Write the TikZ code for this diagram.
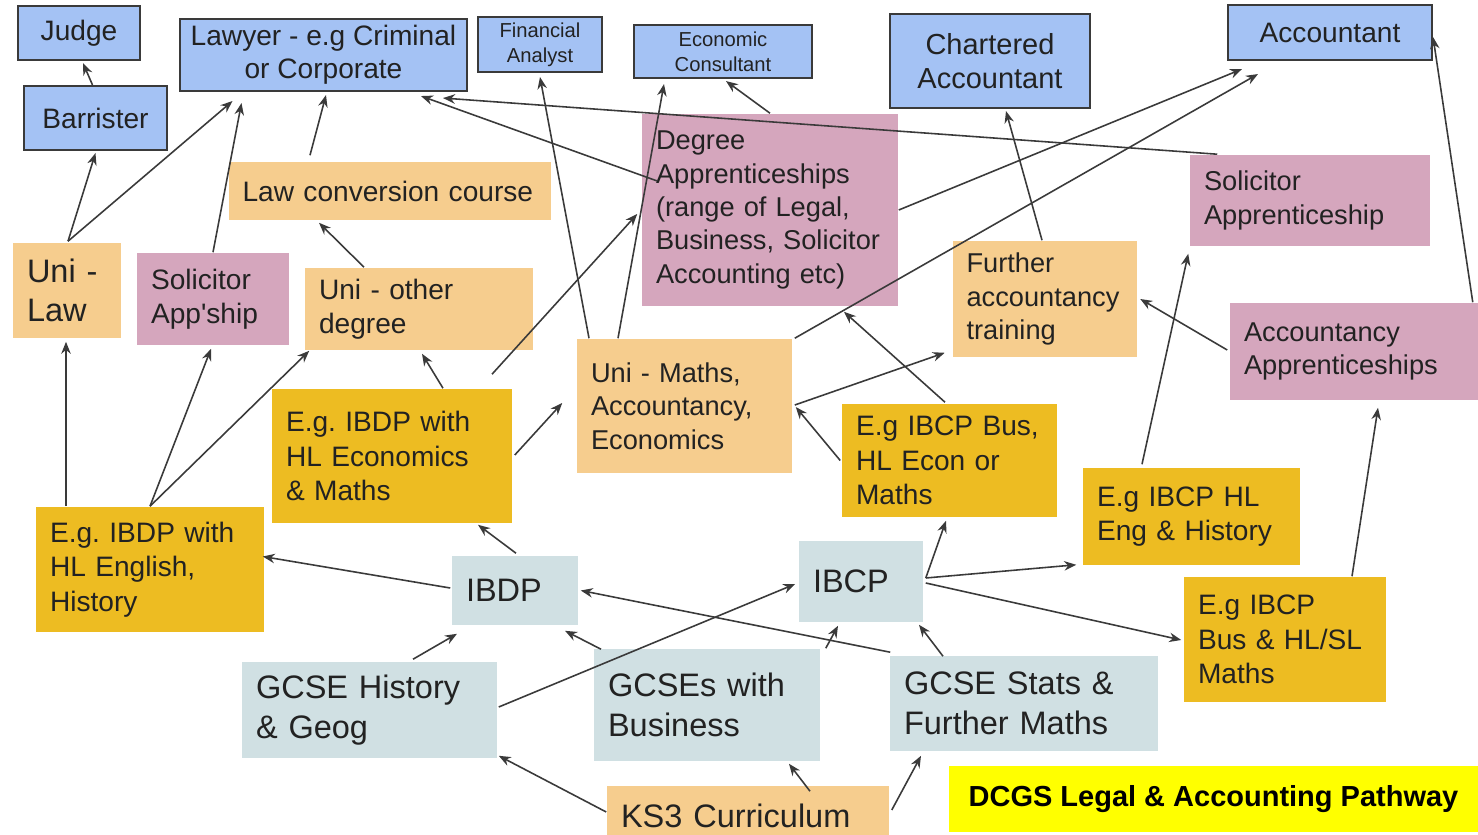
\documentclass[tikz,border=0pt]{standalone}
\usepackage{fontspec}
\setmainfont{Liberation Sans}
\usepackage{tikz}
\usetikzlibrary{arrows.meta, calc}
\definecolor{jobblue}{HTML}{A4C2F4}
\definecolor{edgegrey}{HTML}{3A3A3A}
\definecolor{routetan}{HTML}{F6CD8E}
\definecolor{apprpink}{HTML}{D5A6BD}
\definecolor{optiongold}{HTML}{EDBC22}
\definecolor{schoolgrey}{HTML}{D0E0E3}
\definecolor{banneryellow}{HTML}{FFFF00}
\definecolor{inkgrey}{HTML}{222222}

\begin{document}
\frenchspacing
\begin{tikzpicture}[x = 0.02cm, y = -0.02cm, line width = 0.9pt,
                        >={Stealth[length = 2.4mm, width = 1.9mm]},
                        job/.style = {draw = edgegrey, line width = 1.2pt, fill = jobblue, align = center, inner sep = 0pt, text = inkgrey, font = \fontsize{16}{19}\selectfont},
                        jobsmall/.style = {job, font = \fontsize{11.5}{14}\selectfont},
                        card/.style = {align = left, inner xsep = 0.28cm, inner ysep = 0pt, text = inkgrey, font = \fontsize{15.5}{19}\selectfont},
                        route/.style = {card, fill = routetan},
                        appr/.style = {card, fill = apprpink},
                        option/.style = {card, fill = optiongold, font = \fontsize{16}{19.5}\selectfont},
                        school/.style = {card, fill = schoolgrey, font = \fontsize{18.5}{23}\selectfont},
                        link/.style = {->, draw = edgegrey}]
      \useasboundingbox (0, 0) rectangle (1478, 835);
      \node [job, minimum width = 2.44cm, minimum height = 1.08cm] (judge) at (79, 33){Judge};
      \node [job, minimum width = 2.86cm, minimum height = 1.28cm] (barrister) at (95.5, 118){Barrister};
      \node [job, minimum width = 5.74cm, minimum height = 1.44cm] (lawyer) at (323.5, 55){Lawyer - e.g Criminal\\or Corporate};
      \node [jobsmall, minimum width = 2.48cm, minimum height = 1.1cm] (analyst) at (540, 44.5){Financial\\Analyst};
      \node [jobsmall, minimum width = 3.56cm, minimum height = 1.06cm] (consultant) at (723, 51.5){Economic\\Consultant};
      \node [job, font = \fontsize{16.5}{19.5}\selectfont, minimum width = 4cm, minimum height = 1.88cm] (chartered) at (990, 61){Chartered\\Accountant};
      \node [job, minimum width = 4.08cm, minimum height = 1.1cm] (accountant) at (1330, 32.5){Accountant};
      \node [route, text width = 5.9cm, minimum height = 1.16cm, font = \fontsize{16}{19}\selectfont] (lawconv) at (390, 191){Law conversion course};
      \node [route, text width = 1.6cm, minimum height = 1.9cm, font = \fontsize{18.5}{22.5}\selectfont] (unilaw) at (67, 290.5){Uni -\\Law};
      \node [appr, text width = 2.48cm, minimum height = 1.84cm, font = \fontsize{16}{19.5}\selectfont] (solapp) at (213, 299){Solicitor\\App\textquotesingle ship};
      \node [route, text width = 4cm, minimum height = 1.64cm, font = \fontsize{16}{19.5}\selectfont] (uniother) at (419, 309){Uni - other\\degree};
      \node [appr, text width = 4.56cm, minimum height = 3.84cm] (degapp) at (770, 210){Degree\\Apprenticeships\\(range of Legal,\\Business, Solicitor\\Accounting etc)};
      \node [appr, text width = 4.24cm, minimum height = 1.82cm] (solappr) at (1310, 200.5){Solicitor\\Apprenticeship};
      \node [route, text width = 3.14cm, minimum height = 2.32cm] (further) at (1045, 299){Further\\accountancy\\training};
      \node [appr, text width = 4.4cm, minimum height = 1.94cm] (acctapp) at (1354, 351.5){Accountancy\\Apprenticeships};
      \node [route, text width = 3.74cm, minimum height = 2.68cm] (unimaths) at (684.5, 406){Uni - Maths,\\Accountancy,\\Economics};
      \node [option, text width = 4.24cm, minimum height = 2.68cm] (ibdpecon) at (392, 456){E.g. IBDP with\\HL Economics\\\& Maths};
      \node [option, text width = 3.74cm, minimum height = 2.26cm] (ibcpbus) at (949.5, 460.5){E.g IBCP Bus,\\HL Econ or\\Maths};
      \node [option, text width = 3.78cm, minimum height = 1.94cm] (ibcphl) at (1191.5, 516.5){E.g IBCP HL\\Eng \& History};
      \node [option, text width = 4cm, minimum height = 2.5cm] (ibdpeng) at (150, 569.5){E.g. IBDP with\\HL English,\\History};
      \node [option, text width = 3.48cm, minimum height = 2.5cm] (ibcpmaths) at (1285, 639.5){E.g IBCP\\Bus \& HL/SL\\Maths};
      \node [school, text width = 1.96cm, minimum height = 1.38cm] (ibdp) at (515, 590.5){IBDP};
      \node [school, text width = 1.92cm, minimum height = 1.62cm] (ibcp) at (861, 581.5){IBCP};
      \node [school, text width = 4.54cm, minimum height = 1.92cm] (gcsehist) at (369.5, 710){GCSE History\\\& Geog};
      \node [school, text width = 3.96cm, minimum height = 2.24cm] (gcsebus) at (707, 705){GCSEs with\\Business};
      \node [school, text width = 4.8cm, minimum height = 1.9cm] (gcsestats) at (1024, 703.5){GCSE Stats \&\\Further Maths};
      \node [route, text width = 5.08cm, minimum height = 1.2cm, font = \fontsize{18.5}{23}\selectfont] (ks3) at (748, 816){KS3 Curriculum};
      \node [fill = banneryellow, text = black, font = \bfseries\fontsize{16.5}{20}\selectfont, minimum width = 10.58cm, minimum height = 1.32cm] (banner) at (1213.5, 799){DCGS Legal \& Accounting Pathway};
      \draw [link] ($(barrister.north)+(-3, 0)$) -- ($(judge.south)+(4, 2)$);
      \draw [link] ($(unilaw.north)+(1, -1)$) -- ($(barrister.south)+(0, 2)$);
      \draw [link] ($(unilaw.north)+(1, -1)$) -- ($(lawyer.south)+(-91, 9)$);
      \draw [link] (solapp.north) -- ($(lawyer.south)+(-82, 11)$);
      \draw [link] ($(lawconv.north)+(-80, -6)$) -- ($(lawyer.south)+(2.5, 3)$);
      \draw [link] ($(degapp.west)+(16, -29)$) -- ($(lawyer.south)+(97.5, 4)$);
      \draw [link] ($(solappr.north west)+(28, 0)$) -- ($(lawyer.south)+(119.5, 6)$);
      \draw [link] (degapp.north) -- ($(consultant.south)+(3, 2)$);
      \draw [link] ($(unimaths.north)+(-66.5, 0)$) -- ($(consultant.south)+(-59, 5)$);
      \draw [link] ($(unimaths.north)+(-95.5, 0)$) -- ($(analyst.south)+(0, 4)$);
      \draw [link] (degapp.east) -- ($(accountant.south)+(-88, 8)$);
      \draw [link] ($(unimaths.north east)+(2, 0)$) -- ($(accountant.south)+(-72, 13)$);
      \draw [link] ($(further.north)+(-3, 0)$) -- ($(chartered.south)+(16, 2)$);
      \draw [link] ($(acctapp.north east)+(-6, 0)$) -- ($(accountant.east)+(0, 4.5)$);
      \draw [link] ($(ibdpecon.north)+(51, 0)$) -- ($(uniother.south)+(3, 3)$);
      \draw [link] ($(uniother.north)+(-55, 0)$) -- ($(lawconv.south)+(-71, 2)$);
      \draw [link] ($(ibdpeng.north)+(-84, 0)$) -- ($(unilaw.south)+(-1, 3)$);
      \draw [link] (ibdpeng.north) -- ($(solapp.south)+(-2, 3)$);
      \draw [link] (ibdpeng.north) -- ($(uniother.south west)+(5, 0)$);
      \draw [link] ($(ibdpecon.east)+(2, -1)$) -- ($(unimaths.west)+(-14, -3)$);
      \draw [link] ($(ibdpecon.north)+(100, -14)$) -- ($(degapp.west)+(-4, 4)$);
      \draw [link] ($(ibdp.west)+(-1, -2.5)$) -- ($(ibdpeng.east)+(-2, -13)$);
      \draw [link] ($(ibdp.north)+(1, -2)$) -- ($(ibdpecon.south)+(86, 1)$);
      \draw [link] ($(unimaths.east)+(2, -1)$) -- ($(further.south west)+(-7, -5)$);
      \draw [link] ($(ibcpbus.west)+(-1, 0)$) -- ($(unimaths.east)+(3, 1)$);
      \draw [link] ($(ibcpbus.north)+(-4.5, -1)$) -- ($(degapp.south)+(74, 5)$);
      \draw [link] ($(acctapp.west)+(-2, -1.5)$) -- ($(further.east)+(2, 0)$);
      \draw [link] ($(ibcphl.north)+(-49.5, -3)$) -- ($(solappr.south west)+(-1, 7)$);
      \draw [link] ($(ibcpmaths.north)+(67, 0)$) -- ($(acctapp.south)+(24, 7)$);
      \draw [link] ($(ibcp.east)+(2, -3.5)$) -- ($(ibcpbus.south)+(-3.5, 3)$);
      \draw [link] ($(ibcp.east)+(2, -3.5)$) -- ($(ibcphl.south west)+(-6, -1)$);
      \draw [link] ($(ibcp.east)+(2, 1.5)$) -- ($(ibcpmaths.west)+(-2, 0.5)$);
      \draw [link] ($(gcsestats.north west)+(1, -3)$) -- ($(ibdp.east)+(2, 0)$);
      \draw [link] ($(gcsehist.east)+(1, -3)$) -- ($(ibcp.west)+(-3, 2.5)$);
      \draw [link] ($(gcsehist.north)+(43.5, -2)$) -- ($(ibdp.south)+(-58, 8)$);
      \draw [link] ($(gcsebus.north)+(-106, 1)$) -- ($(ibdp.south)+(50, 5)$);
      \draw [link] ($(gcsebus.north east)+(5, 0)$) -- ($(ibcp.south)+(-23, 3)$);
      \draw [link] ($(gcsestats.north)+(-81, 1)$) -- ($(ibcp.south)+(58, 2)$);
      \draw [link] ($(ks3.west)+(0, -4)$) -- ($(gcsehist.south east)+(1, -3)$);
      \draw [link] ($(ks3.north)+(62, 6)$) -- ($(gcsebus.south)+(82, 2)$);
      \draw [link] ($(ks3.east)+(2, -6)$) -- ($(gcsestats.south)+(-103, 4)$);
    \end{tikzpicture}
\end{document}
